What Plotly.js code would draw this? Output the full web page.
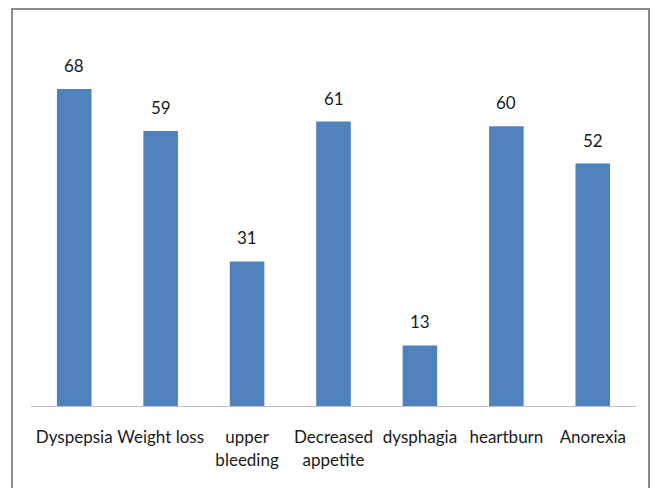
<!DOCTYPE html>
<html>
<head>
<meta charset="utf-8">
<script src="https://cdn.plot.ly/plotly-3.0.1.min.js"></script>
<style>
html,body{margin:0;padding:0;background:#fff;}
#wrap{position:relative;width:657px;height:488px;overflow:hidden;}
#chart{width:657px;height:488px;}
#frame{position:absolute;left:11px;top:8px;width:639px;height:500px;border:2px solid #8c8c8c;pointer-events:none;box-sizing:border-box;}
</style>
</head>
<body>
<div id="wrap"><div id="chart"></div><div id="frame"></div></div>
<script>
var categories = ["Dyspepsia", "Weight loss", "upper<br>bleeding", "Decreased<br>appetite", "dysphagia", "heartburn", "Anorexia"];
var values = [68, 59, 31, 61, 13, 60, 52];
var font = "Lato, 'Liberation Sans', sans-serif";

var annotations = categories.map(function(c, i){
  return {x: c, y: values[i], xref: 'x', yref: 'y', text: String(values[i]),
    showarrow: false, yanchor: 'bottom', yshift: 11,
    font: {family: font, size: 17, color: '#1a1a1a'}};
});

Plotly.newPlot('chart', [{
  type: 'bar', x: categories, y: values,
  marker: {color: '#4f81bd'}, hoverinfo: 'none'
}], {
  width: 657, height: 488,
  margin: {l: 31, r: 21, t: 33, b: 82},
  paper_bgcolor: '#fff', plot_bgcolor: '#fff',
  bargap: 0.6, showlegend: false,
  xaxis: {showline: true, linecolor: '#bfbfbf', linewidth: 1, ticks: '', showgrid: false,
    tickfont: {family: font, size: 17, color: '#1a1a1a'}, ticklabelstandoff: 16, automargin: false},
  yaxis: {range: [0, 80], visible: false, showgrid: false, zeroline: false},
  annotations: annotations
}, {displayModeBar: false, staticPlot: true});
</script>
</body>
</html>
